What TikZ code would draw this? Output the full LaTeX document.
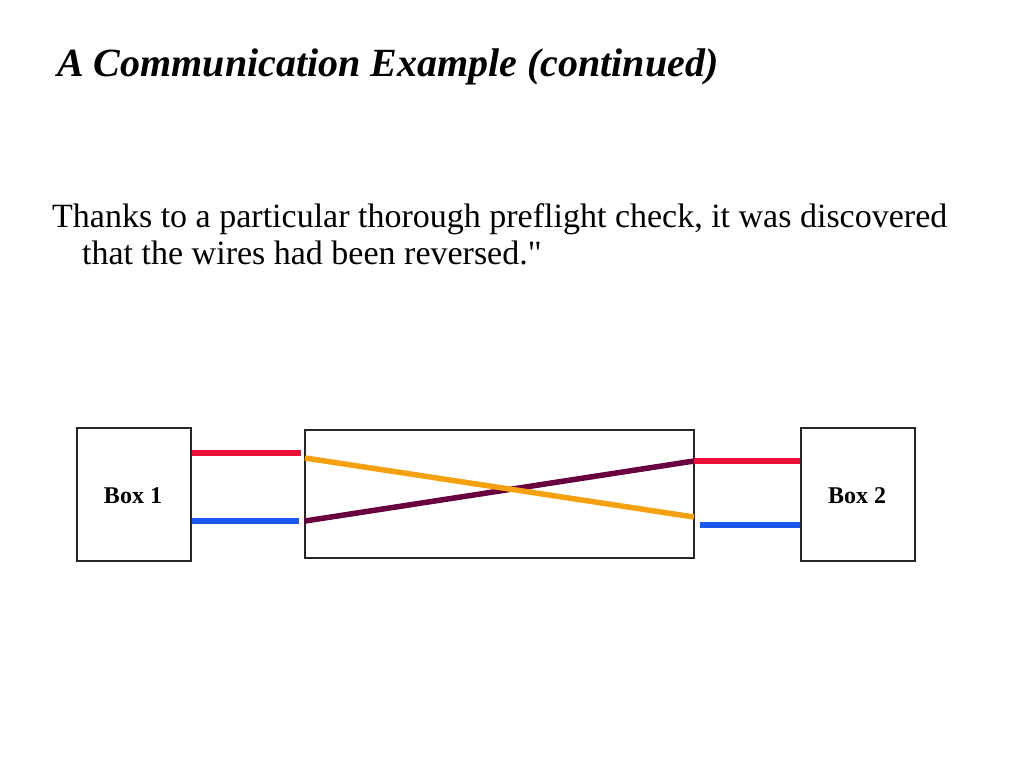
\documentclass[tikz,border=0pt]{standalone}
\usepackage{fontspec}
\setmainfont{Liberation Serif}
\newfontfamily\bodyfont{Liberation Serif}
\definecolor{wred}{RGB}{232,16,58}
\definecolor{wblue}{RGB}{26,86,240}
\definecolor{worange}{RGB}{245,160,15}
\definecolor{wpurple}{RGB}{105,0,64}
\begin{document}
\begin{tikzpicture}[x=1pt,y=-1pt,
  box/.style={draw=black!85,line width=1.3pt,fill=white,inner sep=0pt},
  wire/.style={line width=5.5pt},
  lbl/.style={font=\fontsize{24}{28}\selectfont\bfseries,inner sep=0pt}]
\useasboundingbox (0,0) rectangle (1024,768);
\node[anchor=base west,inner sep=0pt,font=\fontsize{40}{44}\selectfont\bfseries\itshape] (title) at (57,77) {A Communication Example (continued)};
\node[anchor=base west,inner sep=0pt,font=\bodyfont\fontsize{34}{38}\selectfont] (l1) at (52,227) {Thanks to a particular thorough preflight check, it was discovered};
\node[anchor=base west,inner sep=0pt,font=\bodyfont\fontsize{34}{38}\selectfont] (l2) at (82,264) {that the wires had been reversed."};
\draw[box] (77,428) rectangle (191,561);
\node[lbl] (b1) at (133,496) {Box 1};
\draw[box] (305,430) rectangle (694,558);
\draw[box] (801,428) rectangle (915,561);
\node[lbl] (b2) at (857,496) {Box 2};
\coordinate (r1a) at (192,453); \coordinate (r1b) at (301,453);
\coordinate (u1a) at (192,521); \coordinate (u1b) at (299,521);
\coordinate (oa) at (305,458); \coordinate (ob) at (694,517);
\coordinate (pa) at (305,521); \coordinate (pb) at (694,461);
\coordinate (r2a) at (694,461); \coordinate (r2b) at (800,461);
\coordinate (u2a) at (700,525); \coordinate (u2b) at (800,525);
\draw[wire,wred] (r1a) -- (r1b);
\draw[wire,wblue] (u1a) -- (u1b);
\draw[wire,wpurple] (pa) -- (pb);
\draw[wire,worange] (oa) -- (ob);
\draw[wire,wred] (r2a) -- (r2b);
\draw[wire,wblue] (u2a) -- (u2b);
\end{tikzpicture}
\end{document}
